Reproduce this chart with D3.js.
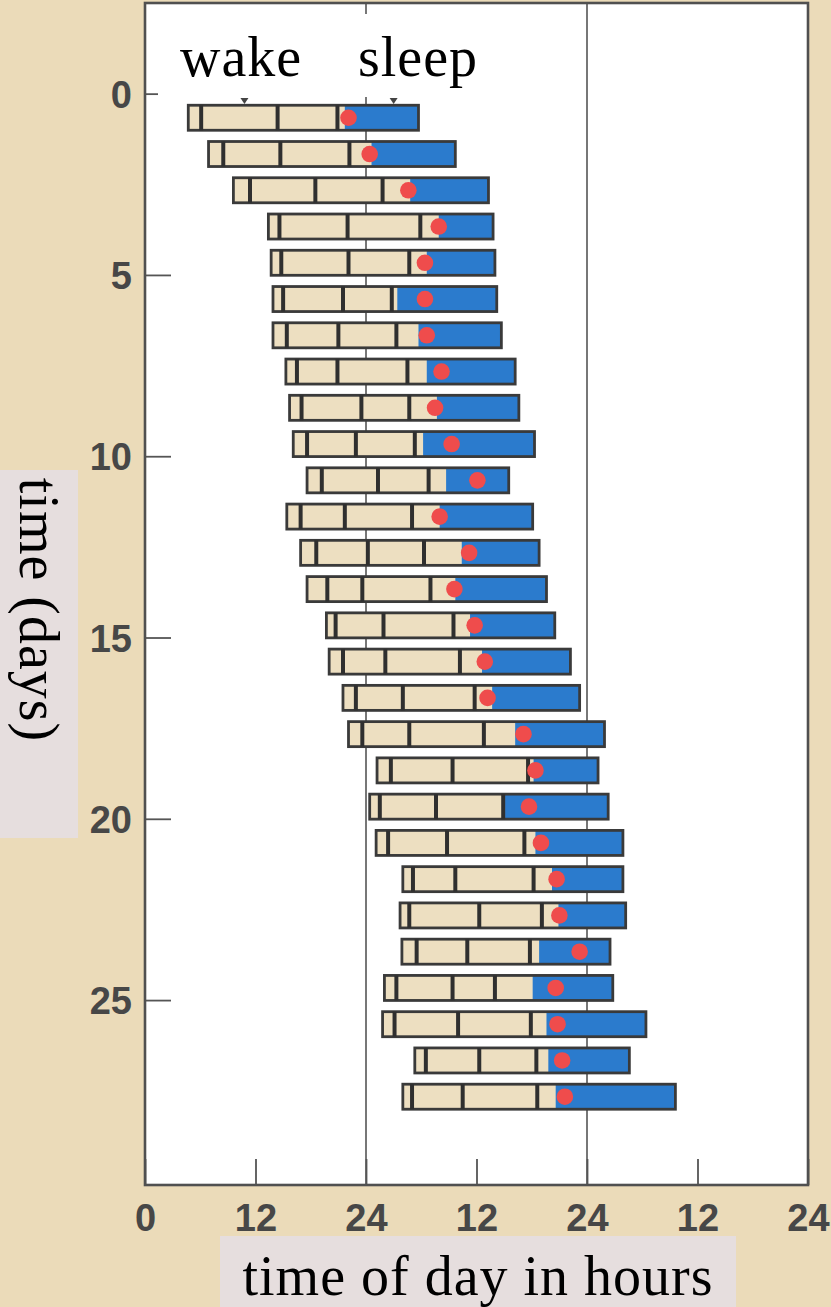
<!DOCTYPE html>
<html>
<head>
<meta charset="utf-8">
<script src="https://cdn.jsdelivr.net/npm/d3@7"></script>
<style>
  body { margin: 0; background: #ebdcbd; }
  svg { display: block; }
</style>
</head>
<body>
<div id="chart"></div>
<script>
// day index of each row
var days = [0, 1, 2, 3, 4, 5, 6, 7, 8, 9, 10, 11, 12, 13, 14, 15, 16, 17, 18, 19, 20, 21, 22, 23, 24, 25, 26, 27];

// all times in hours from the start of the first day
var wakeTime = [4.7, 6.9, 9.6, 13.4, 13.7, 13.9, 13.9, 15.3, 15.7, 16.1, 17.6, 15.4, 16.9, 17.6, 19.7, 20.0, 21.5, 22.1, 25.2, 24.4, 25.1, 28.0, 27.7, 27.9, 26.0, 25.8, 29.3, 28.0];
var mark1 = [6.1, 8.5, 11.4, 14.6, 14.8, 15.0, 15.4, 16.5, 17.0, 17.6, 19.2, 16.9, 18.6, 19.8, 20.7, 21.5, 22.9, 23.6, 26.7, 25.5, 26.4, 29.1, 28.7, 29.5, 27.3, 27.1, 30.5, 29.0];
var mark2 = [14.4, 14.7, 18.5, 22.0, 22.1, 21.5, 21.0, 20.9, 23.5, 22.9, 25.3, 21.7, 24.2, 23.6, 25.9, 26.1, 28.0, 28.7, 33.4, 31.6, 32.8, 33.7, 36.3, 35.0, 33.4, 34.0, 36.3, 34.5];
var mark3 = [20.9, 22.2, 25.8, 29.9, 28.7, 26.8, 27.3, 28.5, 28.7, 29.3, 30.8, 29.0, 30.3, 31.0, 33.5, 34.2, 35.8, 36.8, 41.6, 38.9, 41.2, 42.2, 43.1, 41.8, 38.0, 41.9, 42.5, 42.6];
var sleepStart = [21.7, 24.6, 28.8, 31.9, 30.6, 27.4, 29.7, 30.6, 31.7, 30.2, 32.7, 32.0, 34.4, 33.7, 35.3, 36.6, 37.7, 40.2, 42.2, 39.1, 42.4, 44.2, 44.9, 42.8, 42.1, 43.6, 43.8, 44.6];
var sleepEnd = [29.7, 33.7, 37.3, 37.8, 38.0, 38.2, 38.7, 40.2, 40.6, 42.3, 39.5, 42.1, 42.8, 43.6, 44.5, 46.2, 47.2, 49.9, 49.2, 50.3, 51.9, 51.9, 52.2, 50.5, 50.8, 54.4, 52.6, 57.6];
var tempMin = [22.1, 24.4, 28.6, 31.9, 30.4, 30.4, 30.6, 32.2, 31.5, 33.3, 36.1, 32.0, 35.2, 33.6, 35.8, 36.9, 37.2, 41.1, 42.4, 41.7, 43.0, 44.7, 45.0, 47.2, 44.6, 44.8, 45.3, 45.6];

// little markers above the first row
var markerHours = [10.8, 27.0];
var headerLabels = ["wake", "sleep"];

var xTicks = [0, 12, 24, 36, 48, 60, 72];
var xTickLabels = ["0", "12", "24", "12", "24", "12", "24"];
var midnightLines = [24, 48];
var yTicks = [0, 5, 10, 15, 20, 25];

var svgW = 831, svgH = 1307;
var plot = { left: 145, top: 3, right: 808, bottom: 1185 };

var svg = d3.select("#chart")
    .append("svg")
    .attr("width", svgW)
    .attr("height", svgH);

svg.append("rect")
    .attr("width", svgW)
    .attr("height", svgH)
    .attr("fill", "#ebdbb9");

var x = d3.scaleLinear()
    .domain([0, 72])
    .range([plot.left, plot.right]);
var y = d3.scaleLinear()
    .domain([-2.5, 30.1])
    .range([plot.top, plot.bottom]);

// plot area
svg.append("rect")
    .attr("x", plot.left)
    .attr("y", plot.top)
    .attr("width", plot.right - plot.left)
    .attr("height", plot.bottom - plot.top)
    .attr("fill", "#fff");

// midnight lines
svg.selectAll(".midnight")
    .data(midnightLines)
    .enter()
    .append("line")
    .attr("class", "midnight")
    .attr("x1", function(d) { return x(d); })
    .attr("x2", function(d) { return x(d); })
    .attr("y1", plot.top)
    .attr("y2", plot.bottom)
    .attr("stroke", "#555")
    .attr("stroke-width", 1.6);

// axes
var xAxis = d3.axisBottom(x)
    .tickValues(xTicks)
    .tickFormat(function(d, i) { return xTickLabels[i]; })
    .tickSizeInner(-26)
    .tickSizeOuter(0)
    .tickPadding(19);
var xG = svg.append("g")
    .attr("transform", "translate(0," + plot.bottom + ")")
    .call(xAxis);

var yAxis = d3.axisLeft(y)
    .tickValues(yTicks)
    .tickSizeInner(-26)
    .tickSizeOuter(0)
    .tickPadding(13);
var yG = svg.append("g")
    .attr("transform", "translate(" + plot.left + ",0)")
    .call(yAxis);

[xG, yG].forEach(function(g) {
    g.select(".domain").remove();
    g.selectAll(".tick line").attr("stroke", "#555").attr("stroke-width", 1.8);
    g.selectAll(".tick text")
        .attr("fill", "#474747")
        .style("font-family", "'Liberation Sans', Arial, sans-serif")
        .style("font-weight", "bold")
        .style("font-size", "38px");
});
yG.selectAll(".tick text").attr("dy", "0.36em");

// white label box at the top hides part of the grid
svg.append("rect")
    .attr("x", 158)
    .attr("y", 14)
    .attr("width", 332)
    .attr("height", 83)
    .attr("fill", "#fff");

svg.selectAll(".header")
    .data(headerLabels)
    .enter()
    .append("text")
    .attr("class", "header")
    .attr("x", function(d, i) { return i === 0 ? 180 : 358; })
    .attr("y", 76)
    .attr("fill", "#000")
    .style("font-family", "'Liberation Serif', 'Times New Roman', serif")
    .style("font-size", "56px")
    .style("letter-spacing", "1px")
    .text(function(d) { return d; });

svg.selectAll(".marker")
    .data(markerHours)
    .enter()
    .append("path")
    .attr("class", "marker")
    .attr("d", function(d) {
        var cx = x(d);
        return "M" + (cx - 4) + ",98 L" + (cx + 4) + ",98 L" + cx + ",104 Z";
    })
    .attr("fill", "#444");

// rows
var rowTop = 0.32, rowBottom = 1.01;
var rows = svg.append("g")
    .selectAll(".row")
    .data(days)
    .enter()
    .append("g")
    .attr("class", "row");

rows.append("rect")
    .attr("x", function(d, i) { return x(wakeTime[i]); })
    .attr("y", function(d) { return y(d + rowTop); })
    .attr("width", function(d, i) { return x(sleepEnd[i]) - x(wakeTime[i]); })
    .attr("height", function(d) { return y(d + rowBottom) - y(d + rowTop); })
    .attr("fill", "#eddfc1");

rows.append("rect")
    .attr("x", function(d, i) { return x(sleepStart[i]); })
    .attr("y", function(d) { return y(d + rowTop); })
    .attr("width", function(d, i) { return x(sleepEnd[i]) - x(sleepStart[i]); })
    .attr("height", function(d) { return y(d + rowBottom) - y(d + rowTop); })
    .attr("fill", "#2b7bcd");

rows.append("rect")
    .attr("x", function(d, i) { return x(wakeTime[i]); })
    .attr("y", function(d) { return y(d + rowTop); })
    .attr("width", function(d, i) { return x(sleepEnd[i]) - x(wakeTime[i]); })
    .attr("height", function(d) { return y(d + rowBottom) - y(d + rowTop); })
    .attr("fill", "none")
    .attr("stroke", "#3a3a3a")
    .attr("stroke-width", 2.8);

[mark1, mark2, mark3].forEach(function(arr) {
    rows.append("line")
        .attr("x1", function(d, i) { return x(arr[i]); })
        .attr("x2", function(d, i) { return x(arr[i]); })
        .attr("y1", function(d) { return y(d + rowTop); })
        .attr("y2", function(d) { return y(d + rowBottom); })
        .attr("stroke", "#2f2f2f")
        .attr("stroke-width", 4);
});

rows.append("circle")
    .attr("cx", function(d, i) { return x(tempMin[i]); })
    .attr("cy", function(d) { return y(d + (rowTop + rowBottom) / 2); })
    .attr("r", 8.3)
    .attr("fill", "#ef4c4c");

// frame
svg.append("rect")
    .attr("x", plot.left)
    .attr("y", plot.top)
    .attr("width", plot.right - plot.left)
    .attr("height", plot.bottom - plot.top)
    .attr("fill", "none")
    .attr("stroke", "#505050")
    .attr("stroke-width", 2.6);

// axis titles on their light boxes
svg.append("rect")
    .attr("x", 220)
    .attr("y", 1236)
    .attr("width", 516)
    .attr("height", 71)
    .attr("fill", "#e6dede");
svg.append("text")
    .attr("x", 478)
    .attr("y", 1295)
    .attr("text-anchor", "middle")
    .attr("fill", "#000")
    .style("font-family", "'Liberation Serif', 'Times New Roman', serif")
    .style("font-size", "56px")
    .style("letter-spacing", "1px")
    .text("time of day in hours");

svg.append("rect")
    .attr("x", 0)
    .attr("y", 470)
    .attr("width", 78)
    .attr("height", 368)
    .attr("fill", "#e6dede");
svg.append("text")
    .attr("transform", "translate(20,610) rotate(90)")
    .attr("text-anchor", "middle")
    .attr("fill", "#000")
    .style("font-family", "'Liberation Serif', 'Times New Roman', serif")
    .style("font-size", "56px")
    .style("letter-spacing", "1px")
    .text("time (days)");
</script>
</body>
</html>
